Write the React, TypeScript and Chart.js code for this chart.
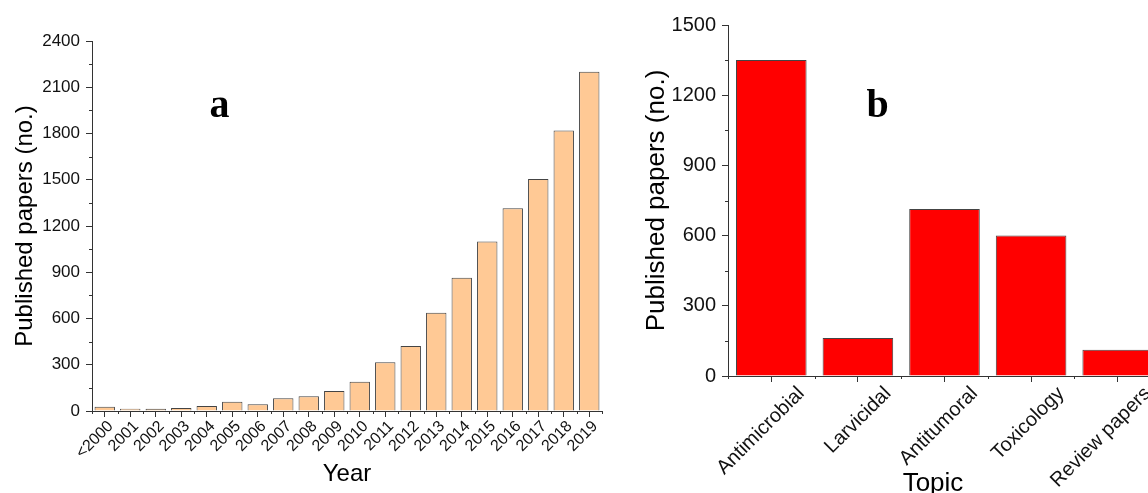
import React, { useEffect, useRef } from 'react';
import { Chart, registerables } from 'chart.js';

Chart.register(...registerables);

const yearLabels = ['<2000', '2001', '2002', '2003', '2004', '2005', '2006', '2007', '2008', '2009', '2010', '2011', '2012', '2013', '2014', '2015', '2016', '2017', '2018', '2019'];
const yearCounts = [28, 15, 14, 20, 33, 60, 44, 82, 95, 130, 190, 316, 421, 638, 865, 1100, 1315, 1505, 1820, 2200];
const yearTicksMax = 2400;
const yearTicksStep = 300;

const topicLabels = ['Antimicrobial', 'Larvicidal', 'Antitumoral', 'Toxicology', 'Review papers'];
const topicCounts = [1350, 162, 714, 600, 112];
const topicTicksMax = 1500;
const topicTicksStep = 300;

const FONT = "'Liberation Sans', Arial, sans-serif";
const AXIS = '#333333';

const minorTicks = {
  id: 'minorTicks',
  afterDraw(chart: any, _a: any, opts: any) {
    const { ctx } = chart;
    const x = chart.scales.x;
    const y = chart.scales.y;
    const len = opts.len || 3;
    ctx.save();
    ctx.strokeStyle = AXIS;
    ctx.lineWidth = 1;
    const yt = y.ticks;
    for (let i = 0; i < yt.length - 1; i++) {
      const v = (yt[i].value + yt[i + 1].value) / 2;
      const py = Math.round(y.getPixelForValue(v)) + 0.5;
      ctx.beginPath();
      ctx.moveTo(y.right - len, py);
      ctx.lineTo(y.right, py);
      ctx.stroke();
    }
    const n = x.ticks.length;
    for (let i = 0; i <= n; i++) {
      const px = Math.round(x.getPixelForValue(i - 0.5)) + 0.5;
      ctx.beginPath();
      ctx.moveTo(px, x.top);
      ctx.lineTo(px, x.top + len);
      ctx.stroke();
    }
    ctx.restore();
  },
};

const extraText = {
  id: 'extraText',
  afterDraw(chart: any, _a: any, opts: any) {
    const { ctx } = chart;
    (opts.items || []).forEach((it: any) => {
      ctx.save();
      ctx.font = it.font;
      ctx.fillStyle = '#000';
      ctx.textAlign = 'center';
      ctx.textBaseline = 'alphabetic';
      ctx.fillText(it.text, it.x, it.y);
      ctx.restore();
    });
  },
};

function makeChart(canvas: HTMLCanvasElement, cfg: any) {
  return new Chart(canvas, {
    type: 'bar',
    data: {
      labels: cfg.labels,
      datasets: [
        {
          data: cfg.values,
          backgroundColor: cfg.fill,
          borderColor: '#444444',
          borderWidth: 1,
          borderSkipped: 'bottom',
          categoryPercentage: 1,
          barPercentage: cfg.barPct,
        },
      ],
    },
    options: {
      responsive: false,
      animation: false,
      devicePixelRatio: 1,
      layout: { padding: cfg.padding },
      plugins: {
        legend: { display: false },
        tooltip: { enabled: false },
        minorTicks: { len: 3 },
        extraText: { items: cfg.texts },
      } as any,
      scales: {
        x: {
          ticks: {
            font: { family: FONT, size: cfg.xFont },
            color: '#111',
            minRotation: 45,
            maxRotation: 45,
            autoSkip: false,
            labelOffset: cfg.labelOffset,
            padding: 0,
          },
          grid: { offset: false, drawOnChartArea: false, tickLength: 6, color: AXIS },
          border: { color: AXIS, width: 1 },
          title: cfg.xTitle
            ? {
                display: true,
                text: cfg.xTitle,
                font: { family: FONT, size: cfg.titleFont, lineHeight: 1.2 },
                color: '#000',
                padding: { top: 0, bottom: cfg.xTitlePad },
              }
            : { display: false },
          afterFit: (s: any) => {
            s.height = cfg.xHeight;
          },
        },
        y: {
          min: 0,
          max: cfg.max,
          ticks: {
            stepSize: cfg.step,
            font: { family: FONT, size: cfg.yFont },
            color: '#111',
            padding: 6,
            callback: (v: any) => String(v),
          },
          grid: { drawOnChartArea: false, tickLength: 6, color: AXIS },
          border: { color: AXIS, width: 1 },
          title: {
            display: true,
            text: 'Published papers (no.)',
            font: { family: FONT, size: cfg.titleFont, lineHeight: 1.2 },
            color: '#000',
            padding: { top: cfg.yTitlePad, bottom: 0 },
          },
          afterFit: (s: any) => {
            s.width = cfg.yWidth;
          },
        },
      },
    } as any,
    plugins: [minorTicks, extraText],
  });
}

export default function App() {
  const leftRef = useRef<HTMLCanvasElement>(null);
  const rightRef = useRef<HTMLCanvasElement>(null);

  useEffect(() => {
    const a = makeChart(leftRef.current!, {
      labels: yearLabels,
      values: yearCounts,
      fill: '#FFC995',
      barPct: 0.8,
      max: yearTicksMax,
      step: yearTicksStep,
      padding: { top: 41, right: 18, left: 0, bottom: 0 },
      xFont: 16,
      yFont: 17,
      titleFont: 24,
      labelOffset: 6,
      xTitle: 'Year',
      xTitlePad: 4,
      yTitlePad: 11,
      xHeight: 82,
      yWidth: 92,
      texts: [{ text: 'a', x: 219.5, y: 117, font: "bold 40px 'Liberation Serif', serif" }],
    });
    const b = makeChart(rightRef.current!, {
      labels: topicLabels,
      values: topicCounts,
      fill: '#FF0000',
      barPct: 0.815,
      max: topicTicksMax,
      step: topicTicksStep,
      padding: { top: 25, right: 19, left: 0, bottom: 0 },
      xFont: 20,
      yFont: 20,
      titleFont: 26,
      labelOffset: 30,
      xTitle: null,
      xTitlePad: 0,
      yTitlePad: 21,
      xHeight: 134,
      yWidth: 108,
      texts: [
        { text: 'b', x: 257.5, y: 117, font: "bold 40px 'Liberation Serif', serif" },
        { text: 'Topic', x: 313, y: 491, font: `26px ${FONT}` },
      ],
    });
    return () => {
      a.destroy();
      b.destroy();
    };
  }, []);

  return (
    <div
      style={{
        position: 'fixed',
        left: 0,
        top: 0,
        width: 1148,
        height: 493,
        overflow: 'hidden',
        background: '#fff',
      }}
    >
      <canvas ref={leftRef} width={620} height={493} style={{ position: 'absolute', left: 0, top: 0, width: 620, height: 493 }} />
      <canvas ref={rightRef} width={560} height={510} style={{ position: 'absolute', left: 620, top: 0, width: 560, height: 510 }} />
    </div>
  );
}
